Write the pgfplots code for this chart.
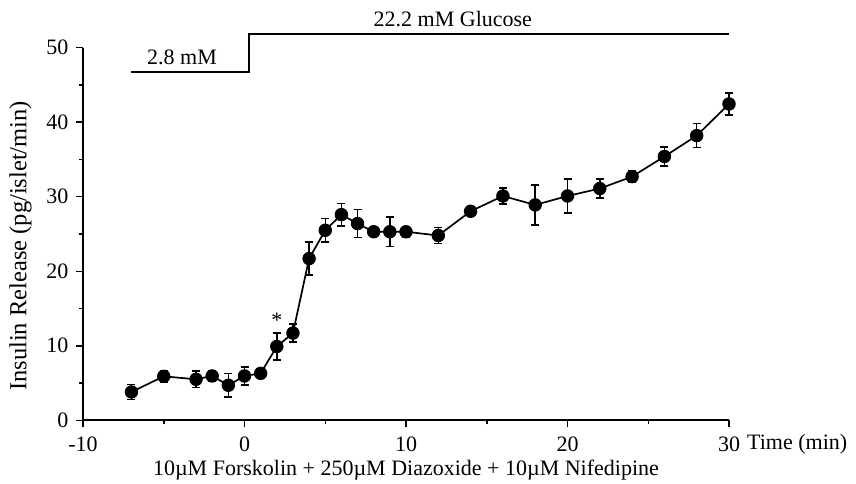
\documentclass[border=0pt]{standalone}
\usepackage{fontspec}
\setmainfont{Liberation Serif}
\usepackage{pgfplots}
\usepackage{pgfplotstable}
\pgfplotsset{compat=1.18}
\pgfplotstableread{
x y e
-7 3.8 1.0
-5 5.9 0.8
-3 5.5 1.1
-2 5.95 0.7
-1 4.7 1.6
0 5.95 1.2
1 6.3 0.4
2 9.9 1.8
3 11.7 1.2
4 21.7 2.2
5 25.5 1.6
6 27.6 1.5
7 26.4 1.9
8 25.3 0.4
9 25.3 2.0
10 25.3 0.7
12 24.8 1.1
14 28.05 0.5
16 30.1 1.1
18 28.9 2.7
20 30.1 2.3
22 31.1 1.3
24 32.7 0.8
26 35.4 1.3
28 38.2 1.6
30 42.45 1.5
}\insulin
\begin{document}
\begin{tikzpicture}
\fontsize{22}{26}\selectfont
\begin{axis}[
 at={(0,0)}, anchor=south west,
 scale only axis, width=646pt, height=372.6pt,
 xmin=-10, xmax=30, ymin=0, ymax=50,
 axis x line=bottom, axis y line=left,
 axis line style={-, line width=1.7pt},
 xtick={-10,0,10,20,30}, ytick={0,10,20,30,40,50},
 minor x tick num=1, minor y tick num=1,
 tick align=outside,
 major tick length=7pt, minor tick length=4pt,
 every tick/.style={line width=1.5pt, black},
 tick label style={font=\fontsize{22}{26}\selectfont},
 xticklabel style={yshift=-2pt},
 /pgf/number format/assume math mode=true,
 clip=false,
 ylabel={Insulin Release (pg/islet/min)},
 xlabel={10µM Forskolin + 250µM Diazoxide + 10µM Nifedipine},
 xlabel style={font=\fontsize{22}{26}\selectfont, at={(axis description cs:0.5,0)}, anchor=base, yshift=-55.5pt, inner sep=0pt},
 ylabel style={font=\fontsize{24.5}{28}\selectfont, at={(ticklabel cs:0.468)}},
]
\addplot[black, line width=1.7pt, mark=*, mark size=6.3pt, mark options={solid, fill=black, line width=0.8pt},
  error bars/.cd, y dir=both, y explicit,
  error bar style={line width=1.5pt, black},
  error mark options={rotate=90, mark size=4pt, line width=1.5pt}]
  table[x=x, y=y, y error=e] {\insulin};
\addplot[black, line width=1.7pt, mark=none] coordinates {(-7,46.7) (0.3,46.7) (0.3,51.8) (30,51.8)};
\node[anchor=base] at (axis cs:-3.87,47.7) {2.8 mM};
\node[anchor=base] at (axis cs:12.9,52.9) {22.2 mM Glucose};
\node at (axis cs:2,13.4) {*};
\node[anchor=base west, inner sep=0pt] at (axis cs:30,0) [yshift=-29.5pt, xshift=18pt] {Time (min)};
\end{axis}
\pgfresetboundingbox
\useasboundingbox (-83pt,-63.7pt) rectangle (773pt,420.3pt);
\end{tikzpicture}
\end{document}
